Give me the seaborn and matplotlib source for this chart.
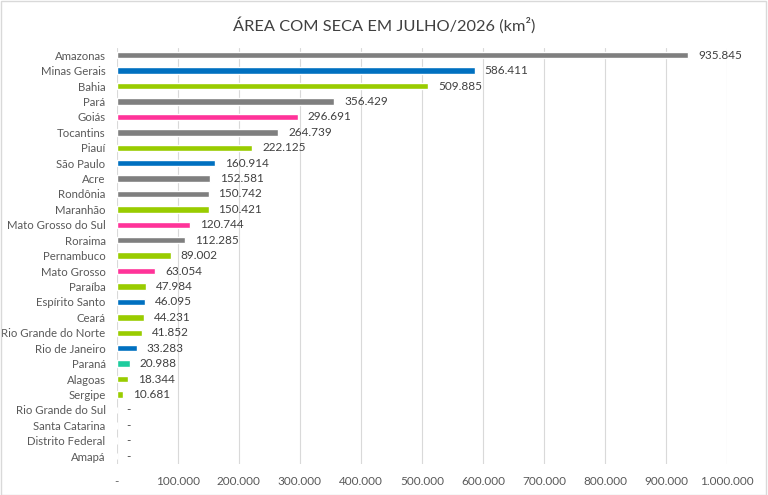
import matplotlib
matplotlib.use("Agg")
import matplotlib.pyplot as plt
import seaborn as sns
import pandas as pd

# data
estados = ["Amazonas", "Minas Gerais", "Bahia", "Pará", "Goiás", "Tocantins", "Piauí",
           "São Paulo", "Acre", "Rondônia", "Maranhão", "Mato Grosso do Sul", "Roraima",
           "Pernambuco", "Mato Grosso", "Paraíba", "Espírito Santo", "Ceará",
           "Rio Grande do Norte", "Rio de Janeiro", "Paraná", "Alagoas", "Sergipe",
           "Rio Grande do Sul", "Santa Catarina", "Distrito Federal", "Amapá"]
area = [935845, 586411, 509885, 356429, 296691, 264739, 222125,
        160914, 152581, 150742, 150421, 120744, 112285,
        89002, 63054, 47984, 46095, 44231,
        41852, 33283, 20988, 18344, 10681,
        0, 0, 0, 0]
regiao = ["N", "SE", "NE", "N", "CO", "N", "NE",
          "SE", "N", "N", "NE", "CO", "N",
          "NE", "CO", "NE", "SE", "NE",
          "NE", "SE", "S", "NE", "NE",
          "S", "S", "CO", "N"]

cores_regiao = {"N": "#7F7F7F", "NE": "#99CC00", "SE": "#0070C0", "CO": "#FF3399", "S": "#1ECC9E"}

df = pd.DataFrame({"estado": estados, "area": area, "regiao": regiao})
paleta = {e: cores_regiao[r] for e, r in zip(estados, regiao)}

sns.set_style("white")
plt.rcParams["font.family"] = ["Lato", "DejaVu Sans"]

fig = plt.figure(figsize=(7.68, 4.95), dpi=100)
ax = fig.add_axes([0.152, 0.063, 0.795, 0.841])

sns.barplot(data=df, y="estado", x="area", hue="estado", palette=paleta,
            orient="h", width=0.42, legend=False, ax=ax, saturation=1)


def fmt(v):
    return "-" if v == 0 else f"{v:,.0f}".replace(",", ".")


for i, v in enumerate(area):
    ax.text(v + 16000, i, fmt(v), va="center", ha="left", fontsize=8.5, color="#404040")

ax.set_xlim(0, 1000000)
ax.set_xticks(range(0, 1000001, 100000))
ax.set_xticklabels([fmt(t) for t in range(0, 1000001, 100000)], fontsize=8.5, color="#595959")
ax.tick_params(axis="y", labelsize=8.2, labelcolor="#595959", length=0, pad=8)
ax.tick_params(axis="x", length=0, pad=9)
ax.set_xlabel("")
ax.set_ylabel("")
ax.grid(axis="x", color="#D9D9D9", linewidth=0.8)
ax.set_axisbelow(True)
for s in ax.spines.values():
    s.set_visible(False)

fig.suptitle("ÁREA COM SECA EM JULHO/2026 (km²)", y=0.965, fontsize=11.8, color="#404040")
fig.patches.append(plt.Rectangle((0.001, 0.001), 0.997, 0.997, transform=fig.transFigure,
                                 fill=False, edgecolor="#D9D9D9", linewidth=1))

fig.savefig("out.png", dpi=100)
